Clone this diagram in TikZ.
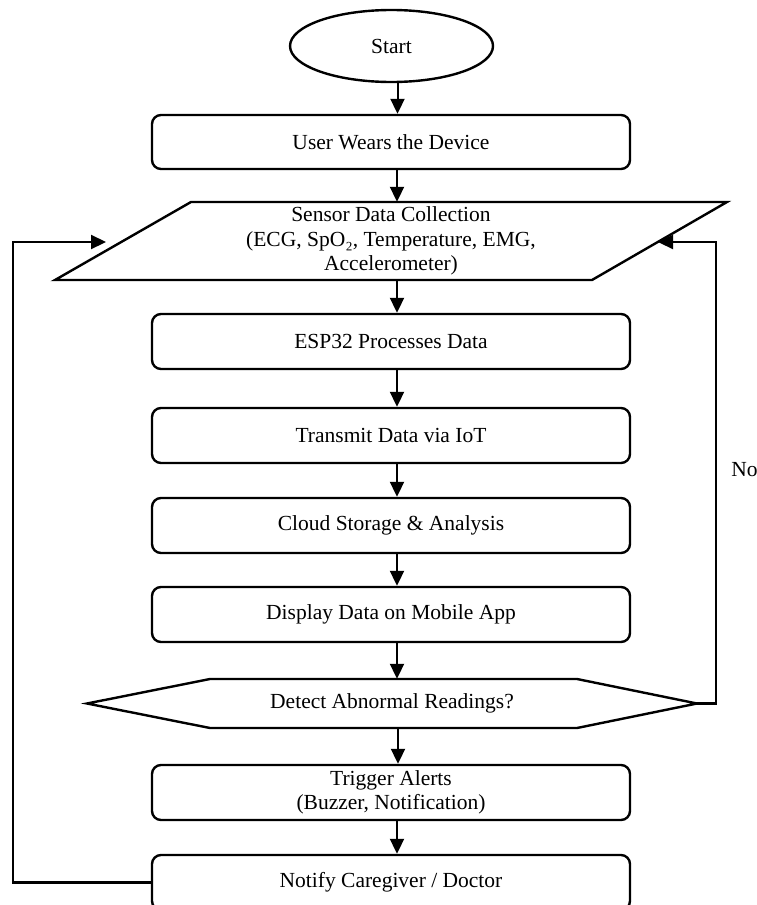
\documentclass[tikz,border=0pt]{standalone}
\usepackage{fontspec}
\setmainfont{Liberation Serif}
\usetikzlibrary{arrows.meta,shapes.geometric}
\begin{document}
\begin{tikzpicture}[x=1pt,y=-1pt,
  every node/.style={font=\fontsize{21.5pt}{24.5pt}\selectfont, align=center, inner sep=0pt},
  procbox/.style={draw, line width=2.4pt, rounded corners=9pt, minimum width=478pt, minimum height=54pt},
  termnode/.style={draw, ellipse, line width=2.4pt, minimum width=203pt, minimum height=72pt},
  shapeline/.style={line width=2.4pt, line join=miter},
  arr/.style={line width=2pt, -{Triangle[length=15pt,width=14pt]}},
  fb/.style={line width=2.2pt, -{Triangle[length=15pt,width=14pt]}}
]
\clip (0,0) rectangle (757,905);
\fill[white] (0,0) rectangle (757,905);

% shapes drawn directly
\draw[shapeline] (191,202) -- (727,202) -- (592,280) -- (55,280) -- cycle;
\draw[shapeline] (87,703.5) -- (210,679) -- (577,679) -- (697,703.5) -- (577,728) -- (210,728) -- cycle;

% nodes
\node[termnode] (start) at (391.5,46) {Start};
\node[procbox] (wear) at (391,142) {User Wears the Device};
\node[minimum width=400pt, minimum height=78pt] (sdc) at (391,241) {Sensor Data Collection\\(ECG, SpO₂, Temperature, EMG,\\Accelerometer)};
\node[procbox, minimum height=55pt] (esp) at (391,341.5) {ESP32 Processes Data};
\node[procbox, minimum height=55pt] (tx) at (391,435.5) {Transmit Data via IoT};
\node[procbox, minimum height=55pt] (cloud) at (391,525.5) {Cloud Storage \& Analysis};
\node[procbox, minimum height=55pt] (disp) at (391,614.5) {Display Data on Mobile App};
\node[minimum width=610pt, minimum height=49pt] (dec) at (392,703.5) {Detect Abnormal Readings?};
\node[procbox, minimum height=55pt] (trig) at (391,792.5) {Trigger Alerts\\(Buzzer, Notification)};
\node[procbox, minimum height=55pt] (notify) at (391,882.5) {Notify Caregiver / Doctor};
\node (no) at (744.5,470) {No};

\coordinate (lc) at (13,242);
\coordinate (ltip) at (106,242);
\coordinate (rc) at (716,242);
\coordinate (rtip) at (658,242);

% vertical connectors
\draw[arr] ([xshift=6pt]start.south) -- ([xshift=6pt]start.south |- wear.north);
\draw[arr] ([xshift=6pt]wear.south) -- ([xshift=6pt]wear.south |- sdc.north);
\draw[arr] ([xshift=6pt]sdc.south) -- ([xshift=6pt]sdc.south |- esp.north);
\draw[arr] ([xshift=6pt]esp.south) -- ([xshift=6pt]esp.south |- tx.north);
\draw[arr] ([xshift=6pt]tx.south) -- ([xshift=6pt]tx.south |- cloud.north);
\draw[arr] ([xshift=6pt]cloud.south) -- ([xshift=6pt]cloud.south |- disp.north);
\draw[arr] ([xshift=6pt]disp.south) -- ([xshift=6pt]disp.south |- dec.north);
\draw[arr] ([xshift=6pt]dec.south) -- ([xshift=6pt]dec.south |- trig.north);
\draw[arr] ([xshift=6pt]trig.south) -- ([xshift=6pt]trig.south |- notify.north);

% feedback loops
\draw[fb] (notify.west) -| (lc) -- (ltip);
\draw[fb] (dec.east) -| (rc) -- (rtip);
\end{tikzpicture}
\end{document}
